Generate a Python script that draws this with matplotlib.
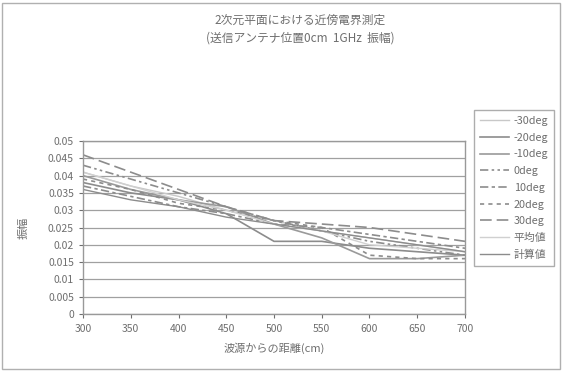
import matplotlib
matplotlib.use("Agg")
import matplotlib.pyplot as plt
from matplotlib.patches import Rectangle

plt.rcParams['font.family'] = ['Noto Sans CJK JP', 'DejaVu Sans']

# distance from source (cm)
distance = [300, 350, 400, 450, 500, 550, 600, 650, 700]

# amplitude per angle
m30deg = [0.041, 0.037, 0.034, 0.030, 0.027, 0.024, 0.022, 0.020, 0.018]
m20deg = [0.038, 0.035, 0.033, 0.029, 0.021, 0.021, 0.019, 0.018, 0.017]
m10deg = [0.040, 0.036, 0.033, 0.031, 0.026, 0.022, 0.016, 0.016, 0.017]
p0deg = [0.043, 0.039, 0.035, 0.031, 0.027, 0.024, 0.021, 0.019, 0.017]
p10deg = [0.037, 0.034, 0.031, 0.029, 0.026, 0.025, 0.023, 0.021, 0.019]
p20deg = [0.039, 0.036, 0.032, 0.030, 0.027, 0.025, 0.017, 0.016, 0.016]
p30deg = [0.046, 0.041, 0.036, 0.031, 0.027, 0.026, 0.025, 0.023, 0.021]
average = [0.041, 0.037, 0.033, 0.030, 0.026, 0.024, 0.020, 0.019, 0.018]
calculated = [0.036, 0.033, 0.031, 0.028, 0.026, 0.024, 0.022, 0.020, 0.018]

labels = ['-30deg', '-20deg', '-10deg', '0deg', '10deg', '20deg', '30deg', '平均値', '計算値']
series = [m30deg, m20deg, m10deg, p0deg, p10deg, p20deg, p30deg, average, calculated]

yticks = [0, 0.005, 0.01, 0.015, 0.02, 0.025, 0.03, 0.035, 0.04, 0.045, 0.05]
ytick_labels = ['0', '0.005', '0.01', '0.015', '0.02', '0.025', '0.03', '0.035', '0.04', '0.045', '0.05']

text_grey = '#6e6e6e'
# (color, linestyle, linewidth) per series
styles = [
    ('#c8c8c8', '-', 1.0),
    ('#8c8c8c', '-', 1.2),
    ('#9a9a9a', '-', 1.2),
    ('#8c8c8c', (0, (5, 2, 1.5, 2, 1.5, 2)), 1.2),
    ('#8c8c8c', (0, (5, 2, 2, 2)), 1.2),
    ('#8c8c8c', (0, (2.5, 2.5)), 1.2),
    ('#8c8c8c', (0, (7, 3)), 1.2),
    ('#d0d0d0', '-', 1.0),
    ('#8c8c8c', '-', 1.0),
]

W, H = 563, 372
fig = plt.figure(figsize=(W / 100, H / 100), dpi=100)
ax = fig.add_axes([83 / W, 1 - 314 / H, (465 - 83) / W, (314 - 141) / H])

for vals, lab, (c, ls, lw) in zip(series, labels, styles):
    ax.plot(distance, vals, color=c, linestyle=ls, linewidth=lw, label=lab)

ax.set_xlim(300, 700)
ax.set_ylim(0, 0.05)
ax.set_xticks(distance)
ax.set_yticks(yticks)
ax.set_yticklabels(ytick_labels)
ax.yaxis.grid(True, color='#a0a0a0', linewidth=0.9)
ax.set_axisbelow(True)
ax.tick_params(colors=text_grey, labelsize=7.5, length=3, width=0.8)
ax.tick_params(axis='x', pad=4)
for side in ['left', 'bottom', 'top', 'right']:
    ax.spines[side].set_color('#999999')
    ax.spines[side].set_linewidth(1.0)

ax.set_xlabel('波源からの距離(cm)', fontsize=8, color=text_grey, labelpad=6)
ax.set_ylabel('振幅', fontsize=8, color=text_grey, labelpad=14)

fig.text(300 / W, 1 - 20 / H, '2次元平面における近傍電界測定', ha='center', va='center',
         fontsize=8.5, color=text_grey)
fig.text(300 / W, 1 - 38 / H, '(送信アンテナ位置0cm  1GHz  振幅)', ha='center', va='center',
         fontsize=8.5, color=text_grey)

leg = ax.legend(loc='upper left', bbox_to_anchor=(474 / W, 1 - 110 / H),
                bbox_transform=fig.transFigure, borderaxespad=0, fontsize=7.8,
                frameon=True, fancybox=False, handlelength=2.7, handletextpad=0.4,
                labelspacing=0.62, borderpad=0.55)
leg.get_frame().set_edgecolor('#999999')
leg.get_frame().set_linewidth(1.0)
for t in leg.get_texts():
    t.set_color(text_grey)

# outer chart frame
fig.patches.append(Rectangle((2 / W, 3 / H), (W - 5) / W, (H - 6) / H, transform=fig.transFigure,
                             fill=False, edgecolor='#b0b0b0', linewidth=1.0))

fig.savefig('out.png', dpi=100)
